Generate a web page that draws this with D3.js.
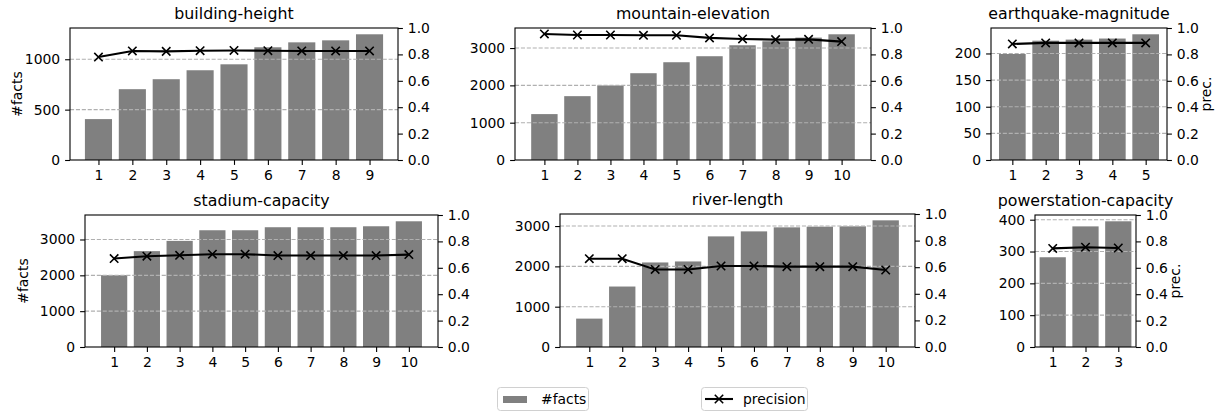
<!DOCTYPE html>
<html>
<head>
<meta charset="utf-8">
<script src="https://cdn.jsdelivr.net/npm/d3@7"></script>
<style>
  body { margin: 0; background: #fff; }
  svg { display: block; font-family: "DejaVu Sans", sans-serif; }
</style>
</head>
<body>
<div id="container"></div>
<script>
// ------ data ------
const titles = ["building-height", "mountain-elevation", "earthquake-magnitude",
  "stadium-capacity", "river-length", "powerstation-capacity"];

const buildingFacts = [406, 703, 802, 891, 950, 1119, 1168, 1188, 1248];
const buildingPrec = [0.78, 0.826, 0.823, 0.828, 0.83, 0.828, 0.826, 0.826, 0.826];
const buildingTicks = [0, 500, 1000];

const mountainFacts = [1230, 1711, 1997, 2326, 2620, 2781, 3075, 3182, 3280, 3369];
const mountainPrec = [0.955, 0.947, 0.947, 0.945, 0.945, 0.925, 0.917, 0.912, 0.914, 0.897];
const mountainTicks = [0, 1000, 2000, 3000];

const quakeFacts = [199, 224, 226, 228, 236];
const quakePrec = [0.879, 0.887, 0.887, 0.887, 0.887];
const quakeTicks = [0, 50, 100, 150, 200];

const stadiumFacts = [2005, 2675, 2961, 3258, 3258, 3342, 3342, 3342, 3369, 3508];
const stadiumPrec = [0.67, 0.688, 0.695, 0.703, 0.703, 0.693, 0.693, 0.693, 0.693, 0.70];
const stadiumTicks = [0, 1000, 2000, 3000];

const riverFacts = [704, 1500, 2097, 2122, 2744, 2868, 2968, 2985, 2993, 3142];
const riverPrec = [0.664, 0.664, 0.583, 0.583, 0.609, 0.609, 0.604, 0.604, 0.604, 0.579];
const riverTicks = [0, 1000, 2000, 3000];

const powerFacts = [282, 379, 395];
const powerPrec = [0.747, 0.756, 0.75];
const powerTicks = [0, 100, 200, 300, 400];

const precTicks = [0, 0.2, 0.4, 0.6, 0.8, 1.0];
const legendLabels = ["#facts", "precision"];

// ------ layout ------
const width = 1225, height = 412;
const fontSize = 13.9;
const tickLen = 4.9, tickPad = 4.9;

const panels = [
  { facts: buildingFacts, prec: buildingPrec, ticks: buildingTicks, box: [70, 398, 28, 160], left: 48 },
  { facts: mountainFacts, prec: mountainPrec, ticks: mountainTicks, box: [515, 871, 28, 160] },
  { facts: quakeFacts, prec: quakePrec, ticks: quakeTicks, box: [991, 1167, 28, 160], right: 44 },
  { facts: stadiumFacts, prec: stadiumPrec, ticks: stadiumTicks, box: [85, 438, 215, 347], left: 57 },
  { facts: riverFacts, prec: riverPrec, ticks: riverTicks, box: [560, 915, 214, 347] },
  { facts: powerFacts, prec: powerPrec, ticks: powerTicks, box: [1035, 1136, 215, 347], right: 44 }
];

const svg = d3.select('#container').append('svg')
  .attr('width', width)
  .attr('height', height);

function drawPanel(p, title) {
  const [x0, x1, y0, y1] = p.box;
  const n = p.facts.length;
  const m = 0.05 * (n - 0.2);
  const x = d3.scaleLinear().domain([0.6 - m, n + 0.4 + m]).range([x0, x1]);
  const y = d3.scaleLinear().domain([0, d3.max(p.facts) * 1.05]).range([y1, y0]);
  const y2 = d3.scaleLinear().domain([0, 1]).range([y1, y0]);
  const idx = d3.range(1, n + 1);

  const g = svg.append('g');

  // bars
  g.selectAll('.bar').data(p.facts)
    .enter().append('rect')
    .attr('class', 'bar')
    .attr('x', (d, i) => x(i + 1 - 0.4))
    .attr('width', x(1.4) - x(0.6))
    .attr('y', d => y(d))
    .attr('height', d => y(0) - y(d))
    .attr('fill', '#808080');

  // grid (left axis ticks, drawn over bars)
  g.selectAll('.grid').data(p.ticks.filter(t => t > 0))
    .enter().append('line')
    .attr('x1', x0).attr('x2', x1)
    .attr('y1', d => y(d)).attr('y2', d => y(d))
    .attr('stroke', '#b0b0b0')
    .attr('stroke-width', 1.1)
    .attr('stroke-dasharray', '4.1,1.8');

  // precision line
  const line = d3.line().x((d, i) => x(i + 1)).y(d => y2(d));
  g.append('path')
    .datum(p.prec)
    .attr('d', line)
    .attr('fill', 'none')
    .attr('stroke', '#000')
    .attr('stroke-width', 2.1);
  const s = 4.2;
  g.selectAll('.mark').data(p.prec)
    .enter().append('path')
    .attr('d', (d, i) => {
      const cx = x(i + 1), cy = y2(d);
      return `M${cx - s},${cy - s}L${cx + s},${cy + s}M${cx - s},${cy + s}L${cx + s},${cy - s}`;
    })
    .attr('stroke', '#000')
    .attr('stroke-width', 1.6);

  // axes
  const ax = g.append('g').attr('transform', `translate(0,${y1})`)
    .call(d3.axisBottom(x).tickValues(idx).tickFormat(d3.format('d')).tickSize(tickLen).tickPadding(tickPad));
  const ay = g.append('g').attr('transform', `translate(${x0},0)`)
    .call(d3.axisLeft(y).tickValues(p.ticks).tickFormat(d3.format('d')).tickSize(tickLen).tickPadding(tickPad));
  const ay2 = g.append('g').attr('transform', `translate(${x1},0)`)
    .call(d3.axisRight(y2).tickValues(precTicks).tickFormat(d3.format('.1f')).tickSize(tickLen).tickPadding(tickPad));
  [ax, ay, ay2].forEach(a => {
    a.select('.domain').remove();
    a.selectAll('line').attr('stroke', '#000').attr('stroke-width', 1.1);
    a.selectAll('text').attr('fill', '#000').style('font-size', fontSize + 'px').style('font-family', '"DejaVu Sans"');
  });

  // frame
  g.append('rect')
    .attr('x', x0).attr('y', y0)
    .attr('width', x1 - x0).attr('height', y1 - y0)
    .attr('fill', 'none')
    .attr('stroke', '#000')
    .attr('stroke-width', 1.1);

  g.append('text')
    .attr('x', (x0 + x1) / 2)
    .attr('y', y0 - 9.5)
    .attr('text-anchor', 'middle')
    .style('font-size', '15.8px')
    .text(title);

  if (p.left) {
    g.append('text')
      .attr('transform', `translate(${x0 - p.left},${(y0 + y1) / 2}) rotate(-90)`)
      .attr('text-anchor', 'middle')
      .style('font-size', fontSize + 'px')
      .text('#facts');
  }
  if (p.right) {
    g.append('text')
      .attr('transform', `translate(${x1 + p.right},${(y0 + y1) / 2}) rotate(-90)`)
      .attr('text-anchor', 'middle')
      .style('font-size', fontSize + 'px')
      .text('prec.');
  }
}

panels.forEach((p, i) => drawPanel(p, titles[i]));

// ------ legend ------
const leg = svg.append('g');
leg.append('rect')
  .attr('x', 497.5).attr('y', 387.5).attr('width', 91).attr('height', 23).attr('rx', 3)
  .attr('fill', '#fff').attr('stroke', '#d0d0d0');
leg.append('rect')
  .attr('x', 503).attr('y', 396).attr('width', 24).attr('height', 7)
  .attr('fill', '#808080');
leg.append('text')
  .attr('x', 541).attr('y', 404)
  .style('font-size', fontSize + 'px')
  .text(legendLabels[0]);

leg.append('rect')
  .attr('x', 701.5).attr('y', 387.5).attr('width', 106).attr('height', 23).attr('rx', 3)
  .attr('fill', '#fff').attr('stroke', '#d0d0d0');
leg.append('line')
  .attr('x1', 705).attr('x2', 733).attr('y1', 399).attr('y2', 399)
  .attr('stroke', '#000').attr('stroke-width', 2.1);
leg.append('path')
  .attr('d', 'M714.8,394.8L723.2,403.2M714.8,403.2L723.2,394.8')
  .attr('stroke', '#000').attr('stroke-width', 1.6);
leg.append('text')
  .attr('x', 743).attr('y', 404)
  .style('font-size', fontSize + 'px')
  .text(legendLabels[1]);
</script>
</body>
</html>
